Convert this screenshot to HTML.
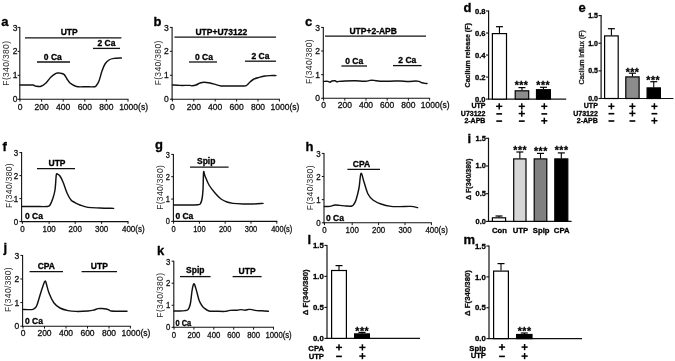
<!DOCTYPE html>
<html><head><meta charset="utf-8"><title>Figure</title>
<style>html,body{margin:0;padding:0;background:#fff;}svg{display:block;will-change:transform;}text{font-family:"Liberation Sans",Arial,sans-serif;}</style>
</head><body>
<svg width="675" height="361" viewBox="0 0 675 361">
<rect width="675" height="361" fill="#fff"/>
<text x="1.20" y="26.00" font-size="13" font-weight="bold" stroke="#000" stroke-width="0.3" text-anchor="start" fill="#000" >a</text>
<line x1="19.80" y1="26.90" x2="19.80" y2="99.80" stroke="#111" stroke-width="1.1"/>
<line x1="17.60" y1="99.30" x2="19.80" y2="99.30" stroke="#111" stroke-width="1.0"/>
<text x="17.60" y="102.30" font-size="8.5" stroke="#111" stroke-width="0.3" text-anchor="end" fill="#111" >0</text>
<line x1="17.60" y1="75.33" x2="19.80" y2="75.33" stroke="#111" stroke-width="1.0"/>
<text x="17.60" y="78.33" font-size="8.5" stroke="#111" stroke-width="0.3" text-anchor="end" fill="#111" >1</text>
<line x1="17.60" y1="51.37" x2="19.80" y2="51.37" stroke="#111" stroke-width="1.0"/>
<text x="17.60" y="54.37" font-size="8.5" stroke="#111" stroke-width="0.3" text-anchor="end" fill="#111" >2</text>
<line x1="17.60" y1="27.40" x2="19.80" y2="27.40" stroke="#111" stroke-width="1.0"/>
<text x="17.60" y="30.80" font-size="8.5" stroke="#111" stroke-width="0.3" text-anchor="end" fill="#111" >3</text>
<line x1="19.30" y1="99.30" x2="128.50" y2="99.30" stroke="#111" stroke-width="1.1"/>
<line x1="20.00" y1="99.30" x2="20.00" y2="101.60" stroke="#111" stroke-width="1.0"/>
<text x="20.00" y="109.80" font-size="8.5" stroke="#111" stroke-width="0.3" text-anchor="middle" fill="#111" >0</text>
<line x1="41.60" y1="99.30" x2="41.60" y2="101.60" stroke="#111" stroke-width="1.0"/>
<text x="41.60" y="109.80" font-size="8.5" stroke="#111" stroke-width="0.3" text-anchor="middle" fill="#111" >200</text>
<line x1="63.20" y1="99.30" x2="63.20" y2="101.60" stroke="#111" stroke-width="1.0"/>
<text x="63.20" y="109.80" font-size="8.5" stroke="#111" stroke-width="0.3" text-anchor="middle" fill="#111" >400</text>
<line x1="84.80" y1="99.30" x2="84.80" y2="101.60" stroke="#111" stroke-width="1.0"/>
<text x="84.80" y="109.80" font-size="8.5" stroke="#111" stroke-width="0.3" text-anchor="middle" fill="#111" >600</text>
<line x1="106.40" y1="99.30" x2="106.40" y2="101.60" stroke="#111" stroke-width="1.0"/>
<text x="106.40" y="109.80" font-size="8.5" stroke="#111" stroke-width="0.3" text-anchor="middle" fill="#111" >800</text>
<line x1="128.00" y1="99.30" x2="128.00" y2="101.60" stroke="#111" stroke-width="1.0"/>
<text x="119.15" y="109.80" font-size="8.5" stroke="#111" stroke-width="0.3" text-anchor="start" fill="#111" >1000(s)</text>
<text transform="translate(9.00,63.17) rotate(-90)" font-size="8.5" letter-spacing="0.34" text-anchor="middle" fill="#2b2b2b">F(340/380)</text>
<line x1="25.00" y1="37.80" x2="121.40" y2="37.80" stroke="#111" stroke-width="1.3"/>
<text x="69.20" y="35.40" font-size="8.5" font-weight="bold" stroke="#000" stroke-width="0.3" text-anchor="middle" fill="#000" >UTP</text>
<line x1="93.00" y1="48.40" x2="120.00" y2="48.40" stroke="#111" stroke-width="1.3"/>
<text x="106.50" y="46.00" font-size="8.5" font-weight="bold" stroke="#000" stroke-width="0.3" text-anchor="middle" fill="#000" >2 Ca</text>
<line x1="37.00" y1="62.00" x2="70.00" y2="62.00" stroke="#111" stroke-width="1.3"/>
<text x="52.80" y="59.60" font-size="8.5" font-weight="bold" stroke="#000" stroke-width="0.3" text-anchor="middle" fill="#000" >0 Ca</text>
<path d="M20.00,85.00 C21.17,85.00 24.83,85.00 27.00,85.00 C29.17,85.00 31.75,84.90 33.00,85.00 C34.25,85.10 34.00,85.40 34.50,85.60 C35.00,85.80 34.92,86.10 36.00,86.20 C37.08,86.30 39.33,86.73 41.00,86.20 C42.67,85.67 44.33,84.53 46.00,83.00 C47.67,81.47 49.33,78.60 51.00,77.00 C52.67,75.40 54.83,74.07 56.00,73.40 C57.17,72.73 57.33,73.05 58.00,73.00 C58.67,72.95 59.00,72.87 60.00,73.10 C61.00,73.33 62.83,73.42 64.00,74.40 C65.17,75.38 66.00,77.57 67.00,79.00 C68.00,80.43 68.67,81.83 70.00,83.00 C71.33,84.17 73.67,85.37 75.00,86.00 C76.33,86.63 76.17,86.67 78.00,86.80 C79.83,86.93 83.33,86.80 86.00,86.80 C88.67,86.80 92.33,86.93 94.00,86.80 C95.67,86.67 95.17,86.97 96.00,86.00 C96.83,85.03 98.00,83.50 99.00,81.00 C100.00,78.50 101.00,73.83 102.00,71.00 C103.00,68.17 103.83,65.83 105.00,64.00 C106.17,62.17 107.50,60.93 109.00,60.00 C110.50,59.07 111.93,58.73 114.00,58.40 C116.07,58.07 120.17,58.07 121.40,58.00" fill="none" stroke="#111" stroke-width="1.45" stroke-linejoin="round" stroke-linecap="round"/>
<text x="153.40" y="26.00" font-size="13" font-weight="bold" stroke="#000" stroke-width="0.3" text-anchor="start" fill="#000" >b</text>
<line x1="172.10" y1="26.90" x2="172.10" y2="99.70" stroke="#111" stroke-width="1.1"/>
<line x1="169.90" y1="99.20" x2="172.10" y2="99.20" stroke="#111" stroke-width="1.0"/>
<text x="168.70" y="102.20" font-size="8.5" stroke="#111" stroke-width="0.3" text-anchor="end" fill="#111" >0</text>
<line x1="169.90" y1="75.27" x2="172.10" y2="75.27" stroke="#111" stroke-width="1.0"/>
<text x="168.70" y="78.27" font-size="8.5" stroke="#111" stroke-width="0.3" text-anchor="end" fill="#111" >1</text>
<line x1="169.90" y1="51.33" x2="172.10" y2="51.33" stroke="#111" stroke-width="1.0"/>
<text x="168.70" y="54.33" font-size="8.5" stroke="#111" stroke-width="0.3" text-anchor="end" fill="#111" >2</text>
<line x1="169.90" y1="27.40" x2="172.10" y2="27.40" stroke="#111" stroke-width="1.0"/>
<text x="168.70" y="30.80" font-size="8.5" stroke="#111" stroke-width="0.3" text-anchor="end" fill="#111" >3</text>
<line x1="171.60" y1="99.20" x2="279.90" y2="99.20" stroke="#111" stroke-width="1.1"/>
<line x1="172.40" y1="99.20" x2="172.40" y2="101.50" stroke="#111" stroke-width="1.0"/>
<text x="172.40" y="109.70" font-size="8.5" stroke="#111" stroke-width="0.3" text-anchor="middle" fill="#111" >0</text>
<line x1="193.80" y1="99.20" x2="193.80" y2="101.50" stroke="#111" stroke-width="1.0"/>
<text x="193.80" y="109.70" font-size="8.5" stroke="#111" stroke-width="0.3" text-anchor="middle" fill="#111" >200</text>
<line x1="215.20" y1="99.20" x2="215.20" y2="101.50" stroke="#111" stroke-width="1.0"/>
<text x="215.20" y="109.70" font-size="8.5" stroke="#111" stroke-width="0.3" text-anchor="middle" fill="#111" >400</text>
<line x1="236.60" y1="99.20" x2="236.60" y2="101.50" stroke="#111" stroke-width="1.0"/>
<text x="236.60" y="109.70" font-size="8.5" stroke="#111" stroke-width="0.3" text-anchor="middle" fill="#111" >600</text>
<line x1="258.00" y1="99.20" x2="258.00" y2="101.50" stroke="#111" stroke-width="1.0"/>
<text x="258.00" y="109.70" font-size="8.5" stroke="#111" stroke-width="0.3" text-anchor="middle" fill="#111" >800</text>
<line x1="279.40" y1="99.20" x2="279.40" y2="101.50" stroke="#111" stroke-width="1.0"/>
<text x="270.55" y="109.70" font-size="8.5" stroke="#111" stroke-width="0.3" text-anchor="start" fill="#111" >1000(s)</text>
<text transform="translate(161.20,62.87) rotate(-90)" font-size="8.5" letter-spacing="0.34" text-anchor="middle" fill="#2b2b2b">F(340/380)</text>
<line x1="174.40" y1="37.20" x2="276.00" y2="37.20" stroke="#111" stroke-width="1.3"/>
<text x="221.30" y="34.80" font-size="8.5" font-weight="bold" stroke="#000" stroke-width="0.3" text-anchor="middle" fill="#000" >UTP+U73122</text>
<line x1="189.00" y1="62.00" x2="217.00" y2="62.00" stroke="#111" stroke-width="1.3"/>
<text x="204.00" y="59.60" font-size="8.5" font-weight="bold" stroke="#000" stroke-width="0.3" text-anchor="middle" fill="#000" >0 Ca</text>
<line x1="245.00" y1="61.20" x2="276.00" y2="61.20" stroke="#111" stroke-width="1.3"/>
<text x="260.50" y="58.80" font-size="8.5" font-weight="bold" stroke="#000" stroke-width="0.3" text-anchor="middle" fill="#000" >2 Ca</text>
<path d="M172.40,85.00 C173.67,85.07 177.07,85.33 180.00,85.40 C182.93,85.47 188.00,85.33 190.00,85.40 C192.00,85.47 191.00,85.87 192.00,85.80 C193.00,85.73 194.67,85.47 196.00,85.00 C197.33,84.53 198.67,83.47 200.00,83.00 C201.33,82.53 202.33,82.20 204.00,82.20 C205.67,82.20 208.00,82.60 210.00,83.00 C212.00,83.40 214.17,84.10 216.00,84.60 C217.83,85.10 218.67,85.77 221.00,86.00 C223.33,86.23 226.17,86.00 230.00,86.00 C233.83,86.00 241.17,86.17 244.00,86.00 C246.83,85.83 246.00,85.67 247.00,85.00 C248.00,84.33 248.83,83.00 250.00,82.00 C251.17,81.00 252.50,79.77 254.00,79.00 C255.50,78.23 257.17,77.90 259.00,77.40 C260.83,76.90 263.17,76.30 265.00,76.00 C266.83,75.70 268.17,75.67 270.00,75.60 C271.83,75.53 275.00,75.60 276.00,75.60" fill="none" stroke="#111" stroke-width="1.45" stroke-linejoin="round" stroke-linecap="round"/>
<text x="305.00" y="25.60" font-size="13" font-weight="bold" stroke="#000" stroke-width="0.3" text-anchor="start" fill="#000" >c</text>
<line x1="323.30" y1="26.90" x2="323.30" y2="98.80" stroke="#111" stroke-width="1.1"/>
<line x1="321.10" y1="98.30" x2="323.30" y2="98.30" stroke="#111" stroke-width="1.0"/>
<text x="319.90" y="101.30" font-size="8.5" stroke="#111" stroke-width="0.3" text-anchor="end" fill="#111" >0</text>
<line x1="321.10" y1="74.67" x2="323.30" y2="74.67" stroke="#111" stroke-width="1.0"/>
<text x="319.90" y="77.67" font-size="8.5" stroke="#111" stroke-width="0.3" text-anchor="end" fill="#111" >1</text>
<line x1="321.10" y1="51.03" x2="323.30" y2="51.03" stroke="#111" stroke-width="1.0"/>
<text x="319.90" y="54.03" font-size="8.5" stroke="#111" stroke-width="0.3" text-anchor="end" fill="#111" >2</text>
<line x1="321.10" y1="27.40" x2="323.30" y2="27.40" stroke="#111" stroke-width="1.0"/>
<text x="319.90" y="30.80" font-size="8.5" stroke="#111" stroke-width="0.3" text-anchor="end" fill="#111" >3</text>
<line x1="322.80" y1="98.30" x2="430.10" y2="98.30" stroke="#111" stroke-width="1.1"/>
<line x1="323.60" y1="98.30" x2="323.60" y2="100.60" stroke="#111" stroke-width="1.0"/>
<text x="323.60" y="108.10" font-size="8.5" stroke="#111" stroke-width="0.3" text-anchor="middle" fill="#111" >0</text>
<line x1="344.80" y1="98.30" x2="344.80" y2="100.60" stroke="#111" stroke-width="1.0"/>
<text x="344.80" y="108.10" font-size="8.5" stroke="#111" stroke-width="0.3" text-anchor="middle" fill="#111" >200</text>
<line x1="366.00" y1="98.30" x2="366.00" y2="100.60" stroke="#111" stroke-width="1.0"/>
<text x="366.00" y="108.10" font-size="8.5" stroke="#111" stroke-width="0.3" text-anchor="middle" fill="#111" >400</text>
<line x1="387.20" y1="98.30" x2="387.20" y2="100.60" stroke="#111" stroke-width="1.0"/>
<text x="387.20" y="108.10" font-size="8.5" stroke="#111" stroke-width="0.3" text-anchor="middle" fill="#111" >600</text>
<line x1="408.40" y1="98.30" x2="408.40" y2="100.60" stroke="#111" stroke-width="1.0"/>
<text x="408.40" y="108.10" font-size="8.5" stroke="#111" stroke-width="0.3" text-anchor="middle" fill="#111" >800</text>
<line x1="429.60" y1="98.30" x2="429.60" y2="100.60" stroke="#111" stroke-width="1.0"/>
<text x="420.75" y="108.10" font-size="8.5" stroke="#111" stroke-width="0.3" text-anchor="start" fill="#111" >1000(s)</text>
<text transform="translate(312.10,61.47) rotate(-90)" font-size="8.5" letter-spacing="0.34" text-anchor="middle" fill="#2b2b2b">F(340/380)</text>
<line x1="325.00" y1="36.20" x2="426.00" y2="36.20" stroke="#111" stroke-width="1.3"/>
<text x="373.20" y="33.80" font-size="8.5" font-weight="bold" stroke="#000" stroke-width="0.3" text-anchor="middle" fill="#000" >UTP+2-APB</text>
<line x1="341.40" y1="66.00" x2="367.00" y2="66.00" stroke="#111" stroke-width="1.3"/>
<text x="354.20" y="63.60" font-size="8.5" font-weight="bold" stroke="#000" stroke-width="0.3" text-anchor="middle" fill="#000" >0 Ca</text>
<line x1="393.00" y1="65.60" x2="421.60" y2="65.60" stroke="#111" stroke-width="1.3"/>
<text x="407.30" y="63.20" font-size="8.5" font-weight="bold" stroke="#000" stroke-width="0.3" text-anchor="middle" fill="#000" >2 Ca</text>
<path d="M323.60,81.40 C324.33,81.40 326.93,81.27 328.00,81.40 C329.07,81.53 329.33,82.27 330.00,82.20 C330.67,82.13 331.17,81.23 332.00,81.00 C332.83,80.77 334.17,80.67 335.00,80.80 C335.83,80.93 336.33,81.70 337.00,81.80 C337.67,81.90 337.67,81.53 339.00,81.40 C340.33,81.27 342.33,81.10 345.00,81.00 C347.67,80.90 352.17,80.77 355.00,80.80 C357.83,80.83 360.17,81.12 362.00,81.20 C363.83,81.28 364.67,81.43 366.00,81.30 C367.33,81.17 368.67,80.55 370.00,80.40 C371.33,80.25 372.33,80.27 374.00,80.40 C375.67,80.53 377.33,81.07 380.00,81.20 C382.67,81.33 386.67,81.23 390.00,81.20 C393.33,81.17 397.00,80.97 400.00,81.00 C403.00,81.03 405.33,81.40 408.00,81.40 C410.67,81.40 414.17,81.00 416.00,81.00 C417.83,81.00 418.00,81.10 419.00,81.40 C420.00,81.70 421.00,82.47 422.00,82.80 C423.00,83.13 424.17,83.30 425.00,83.40 C425.83,83.50 426.67,83.40 427.00,83.40" fill="none" stroke="#111" stroke-width="1.45" stroke-linejoin="round" stroke-linecap="round"/>
<text x="2.60" y="150.60" font-size="13" font-weight="bold" stroke="#000" stroke-width="0.3" text-anchor="start" fill="#000" >f</text>
<line x1="21.60" y1="152.10" x2="21.60" y2="222.10" stroke="#111" stroke-width="1.1"/>
<line x1="19.40" y1="221.60" x2="21.60" y2="221.60" stroke="#111" stroke-width="1.0"/>
<text transform="translate(18.20,224.60) scale(0.94,1)" font-size="8.5" stroke="#111" stroke-width="0.3" text-anchor="end" fill="#111" >0</text>
<line x1="19.40" y1="198.60" x2="21.60" y2="198.60" stroke="#111" stroke-width="1.0"/>
<text transform="translate(18.20,201.60) scale(0.94,1)" font-size="8.5" stroke="#111" stroke-width="0.3" text-anchor="end" fill="#111" >1</text>
<line x1="19.40" y1="175.60" x2="21.60" y2="175.60" stroke="#111" stroke-width="1.0"/>
<text transform="translate(18.20,178.60) scale(0.94,1)" font-size="8.5" stroke="#111" stroke-width="0.3" text-anchor="end" fill="#111" >2</text>
<line x1="19.40" y1="152.60" x2="21.60" y2="152.60" stroke="#111" stroke-width="1.0"/>
<text transform="translate(18.20,156.00) scale(0.94,1)" font-size="8.5" stroke="#111" stroke-width="0.3" text-anchor="end" fill="#111" >3</text>
<line x1="21.10" y1="221.60" x2="128.50" y2="221.60" stroke="#111" stroke-width="1.1"/>
<line x1="22.40" y1="221.60" x2="22.40" y2="223.90" stroke="#111" stroke-width="1.0"/>
<text transform="translate(22.40,231.50) scale(0.94,1)" font-size="8.5" stroke="#111" stroke-width="0.3" text-anchor="middle" fill="#111" >0</text>
<line x1="49.10" y1="221.60" x2="49.10" y2="223.90" stroke="#111" stroke-width="1.0"/>
<text transform="translate(49.10,231.50) scale(0.94,1)" font-size="8.5" stroke="#111" stroke-width="0.3" text-anchor="middle" fill="#111" >100</text>
<line x1="75.20" y1="221.60" x2="75.20" y2="223.90" stroke="#111" stroke-width="1.0"/>
<text transform="translate(75.20,231.50) scale(0.94,1)" font-size="8.5" stroke="#111" stroke-width="0.3" text-anchor="middle" fill="#111" >200</text>
<line x1="101.60" y1="221.60" x2="101.60" y2="223.90" stroke="#111" stroke-width="1.0"/>
<text transform="translate(101.60,231.50) scale(0.94,1)" font-size="8.5" stroke="#111" stroke-width="0.3" text-anchor="middle" fill="#111" >300</text>
<line x1="128.00" y1="221.60" x2="128.00" y2="223.90" stroke="#111" stroke-width="1.0"/>
<text transform="translate(121.94,231.50) scale(0.94,1)" font-size="8.5" stroke="#111" stroke-width="0.3" text-anchor="start" fill="#111" >400(s)</text>
<text transform="translate(11.60,185.47) rotate(-90)" font-size="8.5" letter-spacing="0.34" text-anchor="middle" fill="#2b2b2b">F(340/380)</text>
<line x1="37.00" y1="168.60" x2="75.00" y2="168.60" stroke="#111" stroke-width="1.3"/>
<text x="57.00" y="166.20" font-size="8.5" font-weight="bold" stroke="#000" stroke-width="0.3" text-anchor="middle" fill="#000" >UTP</text>
<text x="25.00" y="219.00" font-size="8.5" font-weight="bold" stroke="#000" stroke-width="0.3" text-anchor="start" fill="#000" >0 Ca</text>
<path d="M22.20,206.50 C24.33,206.50 30.87,206.50 35.00,206.50 C39.13,206.50 44.50,206.75 47.00,206.50 C49.50,206.25 49.00,206.42 50.00,205.00 C51.00,203.58 52.17,200.50 53.00,198.00 C53.83,195.50 54.50,193.33 55.00,190.00 C55.50,186.67 55.75,180.67 56.00,178.00 C56.25,175.33 56.17,174.60 56.50,174.00 C56.83,173.40 57.42,174.07 58.00,174.40 C58.58,174.73 59.17,174.73 60.00,176.00 C60.83,177.27 61.83,179.17 63.00,182.00 C64.17,184.83 65.67,190.00 67.00,193.00 C68.33,196.00 69.67,198.40 71.00,200.00 C72.33,201.60 73.50,201.77 75.00,202.60 C76.50,203.43 77.83,204.20 80.00,205.00 C82.17,205.80 84.67,206.90 88.00,207.40 C91.33,207.90 95.73,207.83 100.00,208.00 C104.27,208.17 111.33,208.33 113.60,208.40" fill="none" stroke="#111" stroke-width="1.45" stroke-linejoin="round" stroke-linecap="round"/>
<text x="155.10" y="148.80" font-size="13" font-weight="bold" stroke="#000" stroke-width="0.3" text-anchor="start" fill="#000" >g</text>
<line x1="173.40" y1="153.90" x2="173.40" y2="221.90" stroke="#111" stroke-width="1.1"/>
<line x1="171.20" y1="221.40" x2="173.40" y2="221.40" stroke="#111" stroke-width="1.0"/>
<text transform="translate(170.00,224.40) scale(0.88,1)" font-size="8.5" stroke="#111" stroke-width="0.3" text-anchor="end" fill="#111" >0</text>
<line x1="171.20" y1="199.07" x2="173.40" y2="199.07" stroke="#111" stroke-width="1.0"/>
<text transform="translate(170.00,202.07) scale(0.88,1)" font-size="8.5" stroke="#111" stroke-width="0.3" text-anchor="end" fill="#111" >1</text>
<line x1="171.20" y1="176.73" x2="173.40" y2="176.73" stroke="#111" stroke-width="1.0"/>
<text transform="translate(170.00,179.73) scale(0.88,1)" font-size="8.5" stroke="#111" stroke-width="0.3" text-anchor="end" fill="#111" >2</text>
<line x1="171.20" y1="154.40" x2="173.40" y2="154.40" stroke="#111" stroke-width="1.0"/>
<text transform="translate(170.00,157.80) scale(0.88,1)" font-size="8.5" stroke="#111" stroke-width="0.3" text-anchor="end" fill="#111" >3</text>
<line x1="172.90" y1="221.40" x2="277.30" y2="221.40" stroke="#111" stroke-width="1.1"/>
<line x1="173.60" y1="221.40" x2="173.60" y2="223.70" stroke="#111" stroke-width="1.0"/>
<text transform="translate(173.60,231.90) scale(0.88,1)" font-size="8.5" stroke="#111" stroke-width="0.3" text-anchor="middle" fill="#111" >0</text>
<line x1="199.40" y1="221.40" x2="199.40" y2="223.70" stroke="#111" stroke-width="1.0"/>
<text transform="translate(199.40,231.90) scale(0.88,1)" font-size="8.5" stroke="#111" stroke-width="0.3" text-anchor="middle" fill="#111" >100</text>
<line x1="225.20" y1="221.40" x2="225.20" y2="223.70" stroke="#111" stroke-width="1.0"/>
<text transform="translate(225.20,231.90) scale(0.88,1)" font-size="8.5" stroke="#111" stroke-width="0.3" text-anchor="middle" fill="#111" >200</text>
<line x1="251.00" y1="221.40" x2="251.00" y2="223.70" stroke="#111" stroke-width="1.0"/>
<text transform="translate(251.00,231.90) scale(0.88,1)" font-size="8.5" stroke="#111" stroke-width="0.3" text-anchor="middle" fill="#111" >300</text>
<line x1="276.80" y1="221.40" x2="276.80" y2="223.70" stroke="#111" stroke-width="1.0"/>
<text transform="translate(271.16,231.90) scale(0.88,1)" font-size="8.5" stroke="#111" stroke-width="0.3" text-anchor="start" fill="#111" >400(s)</text>
<text transform="translate(162.50,187.37) rotate(-90)" font-size="8.5" letter-spacing="0.34" text-anchor="middle" fill="#2b2b2b">F(340/380)</text>
<line x1="190.00" y1="167.20" x2="228.60" y2="167.20" stroke="#111" stroke-width="1.3"/>
<text x="206.20" y="164.00" font-size="8.5" font-weight="bold" stroke="#000" stroke-width="0.3" text-anchor="middle" fill="#000" >Spip</text>
<text x="175.40" y="219.40" font-size="8.5" font-weight="bold" stroke="#000" stroke-width="0.3" text-anchor="start" fill="#000" >0 Ca</text>
<path d="M173.60,205.00 C175.50,205.00 180.93,205.03 185.00,205.00 C189.07,204.97 195.42,205.05 198.00,204.80 C200.58,204.55 199.83,204.47 200.50,203.50 C201.17,202.53 201.58,201.25 202.00,199.00 C202.42,196.75 202.73,194.47 203.00,190.00 C203.27,185.53 203.27,174.53 203.60,172.20 C203.93,169.87 204.10,173.87 205.00,176.00 C205.90,178.13 207.33,182.17 209.00,185.00 C210.67,187.83 213.00,190.67 215.00,193.00 C217.00,195.33 219.00,197.50 221.00,199.00 C223.00,200.50 225.00,201.27 227.00,202.00 C229.00,202.73 230.33,203.07 233.00,203.40 C235.67,203.73 239.67,203.90 243.00,204.00 C246.33,204.10 249.67,204.10 253.00,204.00 C256.33,203.90 261.33,203.50 263.00,203.40" fill="none" stroke="#111" stroke-width="1.45" stroke-linejoin="round" stroke-linecap="round"/>
<text x="305.60" y="151.00" font-size="13" font-weight="bold" stroke="#000" stroke-width="0.3" text-anchor="start" fill="#000" >h</text>
<line x1="324.00" y1="152.90" x2="324.00" y2="223.30" stroke="#111" stroke-width="1.1"/>
<line x1="321.80" y1="222.80" x2="324.00" y2="222.80" stroke="#111" stroke-width="1.0"/>
<text transform="translate(320.60,225.80) scale(0.93,1)" font-size="8.5" stroke="#111" stroke-width="0.3" text-anchor="end" fill="#111" >0</text>
<line x1="321.80" y1="199.67" x2="324.00" y2="199.67" stroke="#111" stroke-width="1.0"/>
<text transform="translate(320.60,202.67) scale(0.93,1)" font-size="8.5" stroke="#111" stroke-width="0.3" text-anchor="end" fill="#111" >1</text>
<line x1="321.80" y1="176.53" x2="324.00" y2="176.53" stroke="#111" stroke-width="1.0"/>
<text transform="translate(320.60,179.53) scale(0.93,1)" font-size="8.5" stroke="#111" stroke-width="0.3" text-anchor="end" fill="#111" >2</text>
<line x1="321.80" y1="153.40" x2="324.00" y2="153.40" stroke="#111" stroke-width="1.0"/>
<text transform="translate(320.60,156.80) scale(0.93,1)" font-size="8.5" stroke="#111" stroke-width="0.3" text-anchor="end" fill="#111" >3</text>
<line x1="323.50" y1="222.80" x2="431.90" y2="222.80" stroke="#111" stroke-width="1.1"/>
<line x1="324.50" y1="222.80" x2="324.50" y2="225.10" stroke="#111" stroke-width="1.0"/>
<text transform="translate(324.50,233.30) scale(0.93,1)" font-size="8.5" stroke="#111" stroke-width="0.3" text-anchor="middle" fill="#111" >0</text>
<line x1="352.20" y1="222.80" x2="352.20" y2="225.10" stroke="#111" stroke-width="1.0"/>
<text transform="translate(352.20,233.30) scale(0.93,1)" font-size="8.5" stroke="#111" stroke-width="0.3" text-anchor="middle" fill="#111" >100</text>
<line x1="378.60" y1="222.80" x2="378.60" y2="225.10" stroke="#111" stroke-width="1.0"/>
<text transform="translate(378.60,233.30) scale(0.93,1)" font-size="8.5" stroke="#111" stroke-width="0.3" text-anchor="middle" fill="#111" >200</text>
<line x1="405.00" y1="222.80" x2="405.00" y2="225.10" stroke="#111" stroke-width="1.0"/>
<text transform="translate(405.00,233.30) scale(0.93,1)" font-size="8.5" stroke="#111" stroke-width="0.3" text-anchor="middle" fill="#111" >300</text>
<line x1="431.40" y1="222.80" x2="431.40" y2="225.10" stroke="#111" stroke-width="1.0"/>
<text transform="translate(425.41,233.30) scale(0.93,1)" font-size="8.5" stroke="#111" stroke-width="0.3" text-anchor="start" fill="#111" >400(s)</text>
<text transform="translate(313.30,187.67) rotate(-90)" font-size="8.5" letter-spacing="0.34" text-anchor="middle" fill="#2b2b2b">F(340/380)</text>
<line x1="347.40" y1="169.40" x2="380.00" y2="169.40" stroke="#111" stroke-width="1.3"/>
<text x="361.50" y="167.00" font-size="8.5" font-weight="bold" stroke="#000" stroke-width="0.3" text-anchor="middle" fill="#000" >CPA</text>
<text x="326.00" y="221.00" font-size="8.5" font-weight="bold" stroke="#000" stroke-width="0.3" text-anchor="start" fill="#000" >0 Ca</text>
<path d="M324.40,206.40 C325.33,206.40 328.23,206.63 330.00,206.40 C331.77,206.17 333.33,205.17 335.00,205.00 C336.67,204.83 338.17,205.23 340.00,205.40 C341.83,205.57 344.00,205.90 346.00,206.00 C348.00,206.10 350.67,206.33 352.00,206.00 C353.33,205.67 353.33,205.00 354.00,204.00 C354.67,203.00 355.17,202.67 356.00,200.00 C356.83,197.33 358.17,192.43 359.00,188.00 C359.83,183.57 360.17,174.40 361.00,173.40 C361.83,172.40 362.83,178.57 364.00,182.00 C365.17,185.43 366.50,191.00 368.00,194.00 C369.50,197.00 370.83,198.33 373.00,200.00 C375.17,201.67 378.00,202.93 381.00,204.00 C384.00,205.07 387.83,205.97 391.00,206.40 C394.17,206.83 396.67,206.60 400.00,206.60 C403.33,206.60 408.07,206.23 411.00,206.40 C413.93,206.57 416.50,207.40 417.60,207.60" fill="none" stroke="#111" stroke-width="1.45" stroke-linejoin="round" stroke-linecap="round"/>
<text x="3.40" y="251.60" font-size="13" font-weight="bold" stroke="#000" stroke-width="0.3" text-anchor="start" fill="#000" >j</text>
<line x1="22.60" y1="254.90" x2="22.60" y2="326.70" stroke="#111" stroke-width="1.1"/>
<line x1="20.40" y1="326.20" x2="22.60" y2="326.20" stroke="#111" stroke-width="1.0"/>
<text x="19.20" y="329.20" font-size="8.5" stroke="#111" stroke-width="0.3" text-anchor="end" fill="#111" >0</text>
<line x1="20.40" y1="302.60" x2="22.60" y2="302.60" stroke="#111" stroke-width="1.0"/>
<text x="19.20" y="305.60" font-size="8.5" stroke="#111" stroke-width="0.3" text-anchor="end" fill="#111" >1</text>
<line x1="20.40" y1="279.00" x2="22.60" y2="279.00" stroke="#111" stroke-width="1.0"/>
<text x="19.20" y="282.00" font-size="8.5" stroke="#111" stroke-width="0.3" text-anchor="end" fill="#111" >2</text>
<line x1="20.40" y1="255.40" x2="22.60" y2="255.40" stroke="#111" stroke-width="1.0"/>
<text x="19.20" y="258.80" font-size="8.5" stroke="#111" stroke-width="0.3" text-anchor="end" fill="#111" >3</text>
<line x1="22.10" y1="326.20" x2="130.90" y2="326.20" stroke="#111" stroke-width="1.1"/>
<line x1="23.00" y1="326.20" x2="23.00" y2="328.50" stroke="#111" stroke-width="1.0"/>
<text x="23.00" y="336.30" font-size="8.5" stroke="#111" stroke-width="0.3" text-anchor="middle" fill="#111" >0</text>
<line x1="44.50" y1="326.20" x2="44.50" y2="328.50" stroke="#111" stroke-width="1.0"/>
<text x="44.50" y="336.30" font-size="8.5" stroke="#111" stroke-width="0.3" text-anchor="middle" fill="#111" >200</text>
<line x1="66.00" y1="326.20" x2="66.00" y2="328.50" stroke="#111" stroke-width="1.0"/>
<text x="66.00" y="336.30" font-size="8.5" stroke="#111" stroke-width="0.3" text-anchor="middle" fill="#111" >400</text>
<line x1="87.50" y1="326.20" x2="87.50" y2="328.50" stroke="#111" stroke-width="1.0"/>
<text x="87.50" y="336.30" font-size="8.5" stroke="#111" stroke-width="0.3" text-anchor="middle" fill="#111" >600</text>
<line x1="109.00" y1="326.20" x2="109.00" y2="328.50" stroke="#111" stroke-width="1.0"/>
<text x="109.00" y="336.30" font-size="8.5" stroke="#111" stroke-width="0.3" text-anchor="middle" fill="#111" >800</text>
<line x1="130.40" y1="326.20" x2="130.40" y2="328.50" stroke="#111" stroke-width="1.0"/>
<text x="121.55" y="336.30" font-size="8.5" stroke="#111" stroke-width="0.3" text-anchor="start" fill="#111" >1000(s)</text>
<text transform="translate(11.20,289.47) rotate(-90)" font-size="8.5" letter-spacing="0.34" text-anchor="middle" fill="#2b2b2b">F(340/380)</text>
<line x1="29.60" y1="271.60" x2="63.00" y2="271.60" stroke="#111" stroke-width="1.3"/>
<text x="46.30" y="269.20" font-size="8.5" font-weight="bold" stroke="#000" stroke-width="0.3" text-anchor="middle" fill="#000" >CPA</text>
<line x1="81.60" y1="271.60" x2="117.00" y2="271.60" stroke="#111" stroke-width="1.3"/>
<text x="99.30" y="269.20" font-size="8.5" font-weight="bold" stroke="#000" stroke-width="0.3" text-anchor="middle" fill="#000" >UTP</text>
<text x="25.00" y="324.40" font-size="8.5" font-weight="bold" stroke="#000" stroke-width="0.3" text-anchor="start" fill="#000" >0 Ca</text>
<path d="M23.00,309.40 C23.83,309.43 26.33,309.60 28.00,309.60 C29.67,309.60 31.83,309.67 33.00,309.40 C34.17,309.13 34.33,308.73 35.00,308.00 C35.67,307.27 36.00,307.67 37.00,305.00 C38.00,302.33 39.83,295.67 41.00,292.00 C42.17,288.33 43.33,284.80 44.00,283.00 C44.67,281.20 44.67,281.28 45.00,281.20 C45.33,281.12 45.33,280.53 46.00,282.50 C46.67,284.47 47.67,289.58 49.00,293.00 C50.33,296.42 52.17,300.50 54.00,303.00 C55.83,305.50 57.67,306.73 60.00,308.00 C62.33,309.27 65.33,310.03 68.00,310.60 C70.67,311.17 72.67,311.33 76.00,311.40 C79.33,311.47 85.00,311.23 88.00,311.00 C91.00,310.77 92.33,310.40 94.00,310.00 C95.67,309.60 96.67,308.85 98.00,308.60 C99.33,308.35 100.67,308.43 102.00,308.50 C103.33,308.57 104.83,308.75 106.00,309.00 C107.17,309.25 108.17,309.67 109.00,310.00 C109.83,310.33 109.17,310.80 111.00,311.00 C112.83,311.20 117.33,311.17 120.00,311.20 C122.67,311.23 125.83,311.20 127.00,311.20" fill="none" stroke="#111" stroke-width="1.45" stroke-linejoin="round" stroke-linecap="round"/>
<text x="157.00" y="254.60" font-size="13" font-weight="bold" stroke="#000" stroke-width="0.3" text-anchor="start" fill="#000" >k</text>
<line x1="173.80" y1="260.70" x2="173.80" y2="327.80" stroke="#111" stroke-width="1.1"/>
<line x1="171.60" y1="327.30" x2="173.80" y2="327.30" stroke="#111" stroke-width="1.0"/>
<text transform="translate(170.40,330.30) scale(0.91,1)" font-size="8.5" stroke="#111" stroke-width="0.3" text-anchor="end" fill="#111" >0</text>
<line x1="171.60" y1="305.27" x2="173.80" y2="305.27" stroke="#111" stroke-width="1.0"/>
<text transform="translate(170.40,308.27) scale(0.91,1)" font-size="8.5" stroke="#111" stroke-width="0.3" text-anchor="end" fill="#111" >1</text>
<line x1="171.60" y1="283.23" x2="173.80" y2="283.23" stroke="#111" stroke-width="1.0"/>
<text transform="translate(170.40,286.23) scale(0.91,1)" font-size="8.5" stroke="#111" stroke-width="0.3" text-anchor="end" fill="#111" >2</text>
<line x1="171.60" y1="261.20" x2="173.80" y2="261.20" stroke="#111" stroke-width="1.0"/>
<text transform="translate(170.40,264.60) scale(0.91,1)" font-size="8.5" stroke="#111" stroke-width="0.3" text-anchor="end" fill="#111" >3</text>
<line x1="173.30" y1="327.30" x2="274.00" y2="327.30" stroke="#111" stroke-width="1.1"/>
<line x1="174.00" y1="327.30" x2="174.00" y2="329.60" stroke="#111" stroke-width="1.0"/>
<text transform="translate(174.00,337.80) scale(0.91,1)" font-size="8.5" stroke="#111" stroke-width="0.3" text-anchor="middle" fill="#111" >0</text>
<line x1="193.90" y1="327.30" x2="193.90" y2="329.60" stroke="#111" stroke-width="1.0"/>
<text transform="translate(193.90,337.80) scale(0.91,1)" font-size="8.5" stroke="#111" stroke-width="0.3" text-anchor="middle" fill="#111" >200</text>
<line x1="213.80" y1="327.30" x2="213.80" y2="329.60" stroke="#111" stroke-width="1.0"/>
<text transform="translate(213.80,337.80) scale(0.91,1)" font-size="8.5" stroke="#111" stroke-width="0.3" text-anchor="middle" fill="#111" >400</text>
<line x1="233.70" y1="327.30" x2="233.70" y2="329.60" stroke="#111" stroke-width="1.0"/>
<text transform="translate(233.70,337.80) scale(0.91,1)" font-size="8.5" stroke="#111" stroke-width="0.3" text-anchor="middle" fill="#111" >600</text>
<line x1="253.60" y1="327.30" x2="253.60" y2="329.60" stroke="#111" stroke-width="1.0"/>
<text transform="translate(253.60,337.80) scale(0.91,1)" font-size="8.5" stroke="#111" stroke-width="0.3" text-anchor="middle" fill="#111" >800</text>
<line x1="273.50" y1="327.30" x2="273.50" y2="329.60" stroke="#111" stroke-width="1.0"/>
<text transform="translate(265.50,337.80) scale(0.91,1)" font-size="8.5" stroke="#111" stroke-width="0.3" text-anchor="start" fill="#111" >1000(s)</text>
<text transform="translate(163.30,295.17) rotate(-90)" font-size="8.5" letter-spacing="0.34" text-anchor="middle" fill="#2b2b2b">F(340/380)</text>
<line x1="180.00" y1="276.60" x2="210.60" y2="276.60" stroke="#111" stroke-width="1.3"/>
<text x="195.30" y="273.40" font-size="8.5" font-weight="bold" stroke="#000" stroke-width="0.3" text-anchor="middle" fill="#000" >Spip</text>
<line x1="232.60" y1="276.60" x2="261.60" y2="276.60" stroke="#111" stroke-width="1.3"/>
<text x="247.10" y="274.20" font-size="8.5" font-weight="bold" stroke="#000" stroke-width="0.3" text-anchor="middle" fill="#000" >UTP</text>
<text transform="translate(175.40,326.00) scale(0.88,1)" font-size="8.5" font-weight="bold" stroke="#000" stroke-width="0.3" text-anchor="start" fill="#000" >0 Ca</text>
<path d="M174.00,311.00 C175.00,311.00 178.17,311.07 180.00,311.00 C181.83,310.93 183.75,310.77 185.00,310.60 C186.25,310.43 186.83,310.43 187.50,310.00 C188.17,309.57 188.50,309.17 189.00,308.00 C189.50,306.83 190.00,305.83 190.50,303.00 C191.00,300.17 191.52,294.07 192.00,291.00 C192.48,287.93 192.97,285.67 193.40,284.60 C193.83,283.53 194.07,283.53 194.60,284.60 C195.13,285.67 195.87,288.43 196.60,291.00 C197.33,293.57 198.18,297.67 199.00,300.00 C199.82,302.33 200.67,303.67 201.50,305.00 C202.33,306.33 202.75,307.00 204.00,308.00 C205.25,309.00 207.00,310.47 209.00,311.00 C211.00,311.53 213.33,311.13 216.00,311.20 C218.67,311.27 222.67,311.53 225.00,311.40 C227.33,311.27 228.00,310.60 230.00,310.40 C232.00,310.20 235.17,310.33 237.00,310.20 C238.83,310.07 239.67,309.60 241.00,309.60 C242.33,309.60 243.67,310.23 245.00,310.20 C246.33,310.17 247.83,309.50 249.00,309.40 C250.17,309.30 251.00,309.43 252.00,309.60 C253.00,309.77 253.33,310.20 255.00,310.40 C256.67,310.60 259.77,310.67 262.00,310.80 C264.23,310.93 267.33,311.13 268.40,311.20" fill="none" stroke="#111" stroke-width="1.45" stroke-linejoin="round" stroke-linecap="round"/>
<text x="463.60" y="12.20" font-size="13" font-weight="bold" stroke="#000" stroke-width="0.3" text-anchor="start" fill="#000" >d</text>
<line x1="488.60" y1="10.50" x2="488.60" y2="99.60" stroke="#111" stroke-width="1.2"/>
<line x1="486.00" y1="99.10" x2="488.60" y2="99.10" stroke="#111" stroke-width="1.1"/>
<text x="485.60" y="101.70" font-size="7.6" font-weight="bold" stroke="#000" stroke-width="0.3" text-anchor="end" fill="#000" >0.0</text>
<line x1="486.00" y1="77.07" x2="488.60" y2="77.07" stroke="#111" stroke-width="1.1"/>
<text x="485.60" y="79.67" font-size="7.6" font-weight="bold" stroke="#000" stroke-width="0.3" text-anchor="end" fill="#000" >0.2</text>
<line x1="486.00" y1="55.05" x2="488.60" y2="55.05" stroke="#111" stroke-width="1.1"/>
<text x="485.60" y="57.65" font-size="7.6" font-weight="bold" stroke="#000" stroke-width="0.3" text-anchor="end" fill="#000" >0.4</text>
<line x1="486.00" y1="33.03" x2="488.60" y2="33.03" stroke="#111" stroke-width="1.1"/>
<text x="485.60" y="35.63" font-size="7.6" font-weight="bold" stroke="#000" stroke-width="0.3" text-anchor="end" fill="#000" >0.6</text>
<line x1="486.00" y1="11.00" x2="488.60" y2="11.00" stroke="#111" stroke-width="1.1"/>
<text x="485.60" y="13.60" font-size="7.6" font-weight="bold" stroke="#000" stroke-width="0.3" text-anchor="end" fill="#000" >0.8</text>
<line x1="488.00" y1="99.10" x2="566.20" y2="99.10" stroke="#111" stroke-width="1.2"/>
<text transform="translate(470.00,55.30) rotate(-90)" font-size="7" font-weight="bold" stroke="#111" stroke-width="0.3" text-anchor="middle" fill="#111">Caclium release (F)</text>
<rect x="492.40" y="33.60" width="14.10" height="65.50" fill="#fff" stroke="#000" stroke-width="1.2"/>
<line x1="499.45" y1="26.70" x2="499.45" y2="33.10" stroke="#000" stroke-width="1.1"/>
<line x1="495.95" y1="26.70" x2="502.95" y2="26.70" stroke="#000" stroke-width="1.2"/>
<rect x="515.20" y="90.80" width="13.50" height="8.30" fill="#8c8c8c" stroke="#000" stroke-width="1.2"/>
<line x1="521.95" y1="87.60" x2="521.95" y2="90.30" stroke="#000" stroke-width="1.1"/>
<line x1="518.45" y1="87.60" x2="525.45" y2="87.60" stroke="#000" stroke-width="1.2"/>
<rect x="536.50" y="89.70" width="13.90" height="9.40" fill="#000" stroke="#000" stroke-width="1.2"/>
<line x1="543.45" y1="87.30" x2="543.45" y2="89.20" stroke="#000" stroke-width="1.1"/>
<line x1="539.95" y1="87.30" x2="546.95" y2="87.30" stroke="#000" stroke-width="1.2"/>
<text x="521.55" y="88.90" font-size="10.5" font-weight="bold" stroke="#000" stroke-width="0.3" text-anchor="middle" fill="#000" letter-spacing="0.5">***</text>
<text x="543.25" y="88.90" font-size="10.5" font-weight="bold" stroke="#000" stroke-width="0.3" text-anchor="middle" fill="#000" letter-spacing="0.5">***</text>
<text x="485.40" y="108.40" font-size="7.0" font-weight="bold" stroke="#000" stroke-width="0.3" text-anchor="end" fill="#000" >UTP</text>
<line x1="496.10" y1="106.30" x2="502.30" y2="106.30" stroke="#000" stroke-width="1.5"/>
<line x1="499.20" y1="103.20" x2="499.20" y2="109.40" stroke="#000" stroke-width="1.5"/>
<line x1="518.70" y1="106.30" x2="524.90" y2="106.30" stroke="#000" stroke-width="1.5"/>
<line x1="521.80" y1="103.20" x2="521.80" y2="109.40" stroke="#000" stroke-width="1.5"/>
<line x1="541.20" y1="106.30" x2="547.40" y2="106.30" stroke="#000" stroke-width="1.5"/>
<line x1="544.30" y1="103.20" x2="544.30" y2="109.40" stroke="#000" stroke-width="1.5"/>
<text x="485.40" y="115.70" font-size="7.0" font-weight="bold" stroke="#000" stroke-width="0.3" text-anchor="end" fill="#000" >U73122</text>
<line x1="496.30" y1="113.90" x2="502.10" y2="113.90" stroke="#000" stroke-width="1.6"/>
<line x1="518.70" y1="113.60" x2="524.90" y2="113.60" stroke="#000" stroke-width="1.5"/>
<line x1="521.80" y1="110.50" x2="521.80" y2="116.70" stroke="#000" stroke-width="1.5"/>
<line x1="541.40" y1="113.90" x2="547.20" y2="113.90" stroke="#000" stroke-width="1.6"/>
<text x="485.40" y="122.90" font-size="7.0" font-weight="bold" stroke="#000" stroke-width="0.3" text-anchor="end" fill="#000" >2-APB</text>
<line x1="496.30" y1="121.10" x2="502.10" y2="121.10" stroke="#000" stroke-width="1.6"/>
<line x1="518.90" y1="121.10" x2="524.70" y2="121.10" stroke="#000" stroke-width="1.6"/>
<line x1="541.20" y1="120.80" x2="547.40" y2="120.80" stroke="#000" stroke-width="1.5"/>
<line x1="544.30" y1="117.70" x2="544.30" y2="123.90" stroke="#000" stroke-width="1.5"/>
<text x="578.60" y="11.60" font-size="13" font-weight="bold" stroke="#000" stroke-width="0.3" text-anchor="start" fill="#000" >e</text>
<line x1="601.10" y1="15.10" x2="601.10" y2="99.00" stroke="#111" stroke-width="1.2"/>
<line x1="598.50" y1="98.50" x2="601.10" y2="98.50" stroke="#111" stroke-width="1.1"/>
<text x="597.90" y="100.80" font-size="7.0" font-weight="bold" stroke="#000" stroke-width="0.3" text-anchor="end" fill="#000" >0.0</text>
<line x1="598.50" y1="70.87" x2="601.10" y2="70.87" stroke="#111" stroke-width="1.1"/>
<text x="597.90" y="73.17" font-size="7.0" font-weight="bold" stroke="#000" stroke-width="0.3" text-anchor="end" fill="#000" >0.5</text>
<line x1="598.50" y1="43.23" x2="601.10" y2="43.23" stroke="#111" stroke-width="1.1"/>
<text x="597.90" y="45.53" font-size="7.0" font-weight="bold" stroke="#000" stroke-width="0.3" text-anchor="end" fill="#000" >1.0</text>
<line x1="598.50" y1="15.60" x2="601.10" y2="15.60" stroke="#111" stroke-width="1.1"/>
<text x="597.90" y="17.90" font-size="7.0" font-weight="bold" stroke="#000" stroke-width="0.3" text-anchor="end" fill="#000" >1.5</text>
<line x1="600.50" y1="98.50" x2="673.40" y2="98.50" stroke="#111" stroke-width="1.2"/>
<text transform="translate(583.60,57.40) rotate(-90)" font-size="7.0" stroke="#111" stroke-width="0.3" text-anchor="middle" fill="#111">Caclium influx (F)</text>
<rect x="604.60" y="35.90" width="13.60" height="62.60" fill="#fff" stroke="#000" stroke-width="1.2"/>
<line x1="611.40" y1="28.70" x2="611.40" y2="35.40" stroke="#000" stroke-width="1.1"/>
<line x1="607.90" y1="28.70" x2="614.90" y2="28.70" stroke="#000" stroke-width="1.2"/>
<rect x="625.80" y="76.90" width="13.30" height="21.60" fill="#8c8c8c" stroke="#000" stroke-width="1.2"/>
<line x1="632.45" y1="73.20" x2="632.45" y2="76.40" stroke="#000" stroke-width="1.1"/>
<line x1="628.95" y1="73.20" x2="635.95" y2="73.20" stroke="#000" stroke-width="1.2"/>
<rect x="647.10" y="87.90" width="13.30" height="10.60" fill="#000" stroke="#000" stroke-width="1.2"/>
<line x1="653.75" y1="81.70" x2="653.75" y2="87.40" stroke="#000" stroke-width="1.1"/>
<line x1="650.25" y1="81.70" x2="657.25" y2="81.70" stroke="#000" stroke-width="1.2"/>
<text x="632.55" y="75.50" font-size="10.5" font-weight="bold" stroke="#000" stroke-width="0.3" text-anchor="middle" fill="#000" letter-spacing="0.5">***</text>
<text x="653.25" y="84.20" font-size="10.5" font-weight="bold" stroke="#000" stroke-width="0.3" text-anchor="middle" fill="#000" letter-spacing="0.5">***</text>
<text x="597.80" y="108.40" font-size="7.0" font-weight="bold" stroke="#000" stroke-width="0.3" text-anchor="end" fill="#000" >UTP</text>
<line x1="608.30" y1="106.30" x2="614.50" y2="106.30" stroke="#000" stroke-width="1.5"/>
<line x1="611.40" y1="103.20" x2="611.40" y2="109.40" stroke="#000" stroke-width="1.5"/>
<line x1="629.30" y1="106.30" x2="635.50" y2="106.30" stroke="#000" stroke-width="1.5"/>
<line x1="632.40" y1="103.20" x2="632.40" y2="109.40" stroke="#000" stroke-width="1.5"/>
<line x1="651.30" y1="106.30" x2="657.50" y2="106.30" stroke="#000" stroke-width="1.5"/>
<line x1="654.40" y1="103.20" x2="654.40" y2="109.40" stroke="#000" stroke-width="1.5"/>
<text x="597.80" y="115.50" font-size="7.0" font-weight="bold" stroke="#000" stroke-width="0.3" text-anchor="end" fill="#000" >U73122</text>
<line x1="608.50" y1="113.70" x2="614.30" y2="113.70" stroke="#000" stroke-width="1.6"/>
<line x1="629.30" y1="113.40" x2="635.50" y2="113.40" stroke="#000" stroke-width="1.5"/>
<line x1="632.40" y1="110.30" x2="632.40" y2="116.50" stroke="#000" stroke-width="1.5"/>
<line x1="651.50" y1="113.70" x2="657.30" y2="113.70" stroke="#000" stroke-width="1.6"/>
<text x="597.80" y="122.80" font-size="7.0" font-weight="bold" stroke="#000" stroke-width="0.3" text-anchor="end" fill="#000" >2-APB</text>
<line x1="608.50" y1="121.00" x2="614.30" y2="121.00" stroke="#000" stroke-width="1.6"/>
<line x1="629.50" y1="121.00" x2="635.30" y2="121.00" stroke="#000" stroke-width="1.6"/>
<line x1="651.30" y1="120.70" x2="657.50" y2="120.70" stroke="#000" stroke-width="1.5"/>
<line x1="654.40" y1="117.60" x2="654.40" y2="123.80" stroke="#000" stroke-width="1.5"/>
<text x="467.60" y="142.80" font-size="13" font-weight="bold" stroke="#000" stroke-width="0.3" text-anchor="start" fill="#000" >i</text>
<line x1="488.50" y1="137.80" x2="488.50" y2="221.90" stroke="#111" stroke-width="1.2"/>
<line x1="485.90" y1="221.40" x2="488.50" y2="221.40" stroke="#111" stroke-width="1.1"/>
<text x="485.90" y="223.80" font-size="7.4" font-weight="bold" stroke="#000" stroke-width="0.3" text-anchor="end" fill="#000" >0.0</text>
<line x1="485.90" y1="193.70" x2="488.50" y2="193.70" stroke="#111" stroke-width="1.1"/>
<text x="485.90" y="196.10" font-size="7.4" font-weight="bold" stroke="#000" stroke-width="0.3" text-anchor="end" fill="#000" >0.5</text>
<line x1="485.90" y1="166.00" x2="488.50" y2="166.00" stroke="#111" stroke-width="1.1"/>
<text x="485.90" y="168.40" font-size="7.4" font-weight="bold" stroke="#000" stroke-width="0.3" text-anchor="end" fill="#000" >1.0</text>
<line x1="485.90" y1="138.30" x2="488.50" y2="138.30" stroke="#111" stroke-width="1.1"/>
<text x="485.90" y="140.70" font-size="7.4" font-weight="bold" stroke="#000" stroke-width="0.3" text-anchor="end" fill="#000" >1.5</text>
<line x1="487.90" y1="221.40" x2="571.60" y2="221.40" stroke="#111" stroke-width="1.2"/>
<text transform="translate(471.00,179.30) rotate(-90)" font-size="7" font-weight="bold" stroke="#111" stroke-width="0.3" text-anchor="middle" fill="#111">Δ F(340/380)</text>
<rect x="492.40" y="217.80" width="13.20" height="3.60" fill="#fff" stroke="#000" stroke-width="1.2"/>
<line x1="499.00" y1="216.00" x2="499.00" y2="217.30" stroke="#000" stroke-width="1.1"/>
<line x1="495.50" y1="216.00" x2="502.50" y2="216.00" stroke="#000" stroke-width="1.2"/>
<rect x="513.70" y="158.90" width="12.30" height="62.50" fill="#d6d6d6" stroke="#000" stroke-width="1.2"/>
<line x1="519.85" y1="152.00" x2="519.85" y2="158.40" stroke="#000" stroke-width="1.1"/>
<line x1="516.35" y1="152.00" x2="523.35" y2="152.00" stroke="#000" stroke-width="1.2"/>
<rect x="534.20" y="158.90" width="12.60" height="62.50" fill="#808080" stroke="#000" stroke-width="1.2"/>
<line x1="540.50" y1="153.40" x2="540.50" y2="158.40" stroke="#000" stroke-width="1.1"/>
<line x1="537.00" y1="153.40" x2="544.00" y2="153.40" stroke="#000" stroke-width="1.2"/>
<rect x="554.80" y="158.90" width="13.00" height="62.50" fill="#000" stroke="#000" stroke-width="1.2"/>
<line x1="561.30" y1="152.90" x2="561.30" y2="158.40" stroke="#000" stroke-width="1.1"/>
<line x1="557.80" y1="152.90" x2="564.80" y2="152.90" stroke="#000" stroke-width="1.2"/>
<text x="520.25" y="153.70" font-size="10.5" font-weight="bold" stroke="#000" stroke-width="0.3" text-anchor="middle" fill="#000" letter-spacing="0.5">***</text>
<text x="540.85" y="154.80" font-size="10.5" font-weight="bold" stroke="#000" stroke-width="0.3" text-anchor="middle" fill="#000" letter-spacing="0.5">***</text>
<text x="561.65" y="153.70" font-size="10.5" font-weight="bold" stroke="#000" stroke-width="0.3" text-anchor="middle" fill="#000" letter-spacing="0.5">***</text>
<text x="499.40" y="232.60" font-size="7.7" font-weight="bold" stroke="#000" stroke-width="0.3" text-anchor="middle" fill="#000" >Con</text>
<text x="520.50" y="232.60" font-size="7.7" font-weight="bold" stroke="#000" stroke-width="0.3" text-anchor="middle" fill="#000" >UTP</text>
<text x="541.20" y="232.60" font-size="7.7" font-weight="bold" stroke="#000" stroke-width="0.3" text-anchor="middle" fill="#000" >Spip</text>
<text x="561.70" y="232.60" font-size="7.7" font-weight="bold" stroke="#000" stroke-width="0.3" text-anchor="middle" fill="#000" >CPA</text>
<text x="307.60" y="244.00" font-size="13" font-weight="bold" stroke="#000" stroke-width="0.3" text-anchor="start" fill="#000" >l</text>
<line x1="327.00" y1="244.90" x2="327.00" y2="338.90" stroke="#111" stroke-width="1.2"/>
<line x1="324.40" y1="338.40" x2="327.00" y2="338.40" stroke="#111" stroke-width="1.1"/>
<text x="323.80" y="341.10" font-size="7.8" font-weight="bold" stroke="#000" stroke-width="0.3" text-anchor="end" fill="#000" >0.0</text>
<line x1="324.40" y1="307.40" x2="327.00" y2="307.40" stroke="#111" stroke-width="1.1"/>
<text x="323.80" y="310.10" font-size="7.8" font-weight="bold" stroke="#000" stroke-width="0.3" text-anchor="end" fill="#000" >0.5</text>
<line x1="324.40" y1="276.40" x2="327.00" y2="276.40" stroke="#111" stroke-width="1.1"/>
<text x="323.80" y="279.10" font-size="7.8" font-weight="bold" stroke="#000" stroke-width="0.3" text-anchor="end" fill="#000" >1.0</text>
<line x1="324.40" y1="245.40" x2="327.00" y2="245.40" stroke="#111" stroke-width="1.1"/>
<text x="323.80" y="248.10" font-size="7.8" font-weight="bold" stroke="#000" stroke-width="0.3" text-anchor="end" fill="#000" >1.5</text>
<line x1="326.40" y1="338.40" x2="420.00" y2="338.40" stroke="#111" stroke-width="1.2"/>
<text transform="translate(307.60,292.30) rotate(-90)" font-size="7.8" font-weight="bold" stroke="#111" stroke-width="0.3" text-anchor="middle" fill="#111">Δ F(340/380)</text>
<rect x="331.60" y="270.50" width="14.80" height="67.90" fill="#fff" stroke="#000" stroke-width="1.2"/>
<line x1="339.00" y1="265.60" x2="339.00" y2="270.00" stroke="#000" stroke-width="1.1"/>
<line x1="335.50" y1="265.60" x2="342.50" y2="265.60" stroke="#000" stroke-width="1.2"/>
<rect x="354.60" y="333.90" width="14.80" height="4.50" fill="#000" stroke="#000" stroke-width="1.2"/>
<line x1="362.00" y1="332.40" x2="362.00" y2="333.40" stroke="#000" stroke-width="1.1"/>
<line x1="358.50" y1="332.40" x2="365.50" y2="332.40" stroke="#000" stroke-width="1.2"/>
<text x="362.25" y="334.50" font-size="10.5" font-weight="bold" stroke="#000" stroke-width="0.3" text-anchor="middle" fill="#000" letter-spacing="0.5">***</text>
<text x="324.00" y="350.80" font-size="7.7" font-weight="bold" stroke="#000" stroke-width="0.3" text-anchor="end" fill="#000" >CPA</text>
<line x1="335.90" y1="347.40" x2="342.10" y2="347.40" stroke="#000" stroke-width="1.5"/>
<line x1="339.00" y1="344.30" x2="339.00" y2="350.50" stroke="#000" stroke-width="1.5"/>
<line x1="359.30" y1="347.40" x2="365.50" y2="347.40" stroke="#000" stroke-width="1.5"/>
<line x1="362.40" y1="344.30" x2="362.40" y2="350.50" stroke="#000" stroke-width="1.5"/>
<text x="324.00" y="358.50" font-size="7.7" font-weight="bold" stroke="#000" stroke-width="0.3" text-anchor="end" fill="#000" >UTP</text>
<line x1="336.10" y1="356.40" x2="341.90" y2="356.40" stroke="#000" stroke-width="1.6"/>
<line x1="359.30" y1="356.10" x2="365.50" y2="356.10" stroke="#000" stroke-width="1.5"/>
<line x1="362.40" y1="353.00" x2="362.40" y2="359.20" stroke="#000" stroke-width="1.5"/>
<text x="463.60" y="243.60" font-size="13" font-weight="bold" stroke="#000" stroke-width="0.3" text-anchor="start" fill="#000" >m</text>
<line x1="489.00" y1="245.50" x2="489.00" y2="339.10" stroke="#111" stroke-width="1.2"/>
<line x1="486.40" y1="338.60" x2="489.00" y2="338.60" stroke="#111" stroke-width="1.1"/>
<text x="485.80" y="341.30" font-size="7.8" font-weight="bold" stroke="#000" stroke-width="0.3" text-anchor="end" fill="#000" >0.0</text>
<line x1="486.40" y1="307.73" x2="489.00" y2="307.73" stroke="#111" stroke-width="1.1"/>
<text x="485.80" y="310.43" font-size="7.8" font-weight="bold" stroke="#000" stroke-width="0.3" text-anchor="end" fill="#000" >0.5</text>
<line x1="486.40" y1="276.87" x2="489.00" y2="276.87" stroke="#111" stroke-width="1.1"/>
<text x="485.80" y="279.57" font-size="7.8" font-weight="bold" stroke="#000" stroke-width="0.3" text-anchor="end" fill="#000" >1.0</text>
<line x1="486.40" y1="246.00" x2="489.00" y2="246.00" stroke="#111" stroke-width="1.1"/>
<text x="485.80" y="248.70" font-size="7.8" font-weight="bold" stroke="#000" stroke-width="0.3" text-anchor="end" fill="#000" >1.5</text>
<line x1="488.40" y1="338.60" x2="582.00" y2="338.60" stroke="#111" stroke-width="1.2"/>
<text transform="translate(470.20,293.00) rotate(-90)" font-size="7.8" font-weight="bold" stroke="#111" stroke-width="0.3" text-anchor="middle" fill="#111">Δ F(340/380)</text>
<rect x="493.60" y="271.10" width="14.80" height="67.50" fill="#fff" stroke="#000" stroke-width="1.2"/>
<line x1="501.00" y1="263.60" x2="501.00" y2="270.60" stroke="#000" stroke-width="1.1"/>
<line x1="497.50" y1="263.60" x2="504.50" y2="263.60" stroke="#000" stroke-width="1.2"/>
<rect x="516.60" y="334.50" width="15.40" height="4.10" fill="#000" stroke="#000" stroke-width="1.2"/>
<line x1="524.30" y1="333.00" x2="524.30" y2="334.00" stroke="#000" stroke-width="1.1"/>
<line x1="520.80" y1="333.00" x2="527.80" y2="333.00" stroke="#000" stroke-width="1.2"/>
<text x="524.65" y="335.00" font-size="10.5" font-weight="bold" stroke="#000" stroke-width="0.3" text-anchor="middle" fill="#000" letter-spacing="0.5">***</text>
<text x="486.00" y="350.90" font-size="7.7" font-weight="bold" stroke="#000" stroke-width="0.3" text-anchor="end" fill="#000" >Spip</text>
<line x1="498.90" y1="347.10" x2="505.10" y2="347.10" stroke="#000" stroke-width="1.5"/>
<line x1="502.00" y1="344.00" x2="502.00" y2="350.20" stroke="#000" stroke-width="1.5"/>
<line x1="521.50" y1="347.10" x2="527.70" y2="347.10" stroke="#000" stroke-width="1.5"/>
<line x1="524.60" y1="344.00" x2="524.60" y2="350.20" stroke="#000" stroke-width="1.5"/>
<text x="486.00" y="358.30" font-size="7.7" font-weight="bold" stroke="#000" stroke-width="0.3" text-anchor="end" fill="#000" >UTP</text>
<line x1="499.10" y1="356.40" x2="504.90" y2="356.40" stroke="#000" stroke-width="1.6"/>
<line x1="521.50" y1="356.10" x2="527.70" y2="356.10" stroke="#000" stroke-width="1.5"/>
<line x1="524.60" y1="353.00" x2="524.60" y2="359.20" stroke="#000" stroke-width="1.5"/>
</svg></body></html>
